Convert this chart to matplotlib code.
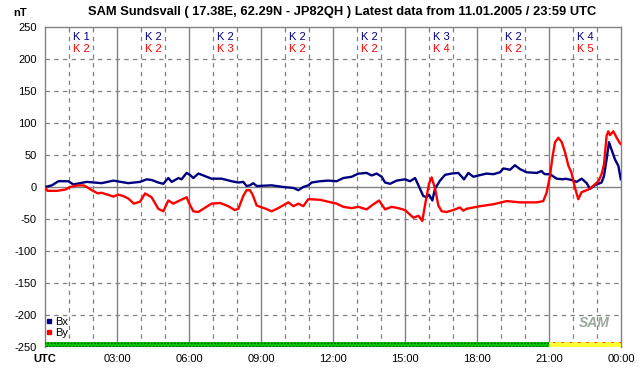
import matplotlib
matplotlib.use("Agg")
import matplotlib.pyplot as plt
from matplotlib.lines import Line2D

plt.rcParams['font.family'] = ['Liberation Sans', 'DejaVu Sans']

# hours UTC, values nT
bx_t = [0, 0.28, 0.56, 0.97, 1.18, 1.74, 2.36, 2.85, 3.47, 3.96, 4.24,
        4.44, 4.72, 4.93, 5.14, 5.28, 5.56, 5.69, 5.9, 6.04, 6.18, 6.39, 6.6,
        6.94, 7.36, 7.78, 8.06, 8.26, 8.4, 8.54, 8.68, 8.82, 9.44, 9.93,
        10.35, 10.56, 10.76, 10.97, 11.11, 11.46, 11.8, 12.15, 12.43, 12.78,
        13.06, 13.12, 13.4, 13.61, 13.82, 14.03, 14.17, 14.38, 14.65, 15.0,
        15.21, 15.42, 15.56, 15.76, 15.9, 16.0, 16.14, 16.25, 16.46, 16.67,
        16.94, 17.22, 17.46, 17.64, 17.85, 18.06, 18.4, 18.68, 18.96, 19.1,
        19.38, 19.58, 19.79, 20.07, 20.49, 20.69, 20.76, 20.83, 21.04, 21.32,
        21.6, 21.67, 21.94, 22.15, 22.36, 22.57, 22.71, 22.92, 23.19, 23.29,
        23.4, 23.5, 23.6, 23.75, 23.89, 23.99]
bx_v = [0, 2.5, 9, 9, 4, 8, 6, 10, 6, 8, 12,
        11, 7, 5, 14, 8, 14, 12, 22, 19, 14, 21, 18,
        13, 13, 9, 7, 8, 1.5, 2.6, 6, 1.5, 2.6, 0,
        -1.5, -5, 0, 2.6, 7, 9, 10, 9, 14, 16,
        21, 21, 22, 18, 21, 16, 7, 5, 10, 12,
        9, 14, 2.6, -14, -16, -12, -21, -2.6, 10, 19,
        21, 22, 12, 22, 16, 18, 21, 20, 23, 29,
        27, 34, 28, 23, 22, 25, 22, 20, 20, 13,
        12, 13, 11, 8, 13, 6, -3, 3, 7, 17,
        43, 70, 59, 43, 33, 12]

by_t = [0, 0.1, 0.5, 0.85, 1.05, 1.35, 1.6, 1.74, 1.95, 2.2, 2.36, 2.85,
        3.05, 3.25, 3.47, 3.7, 3.96, 4.17, 4.44, 4.72, 4.93, 5.14, 5.35,
        5.56, 5.9, 6.04, 6.18, 6.39, 6.6, 6.94, 7.3, 7.64, 7.9, 8.06, 8.26,
        8.4, 8.54, 8.65, 8.82, 9.2, 9.44, 9.72, 10.14, 10.35, 10.56, 10.76,
        10.97, 11.46, 11.8, 12.15, 12.43, 12.78, 13.06, 13.4, 13.61, 13.92,
        14.17, 14.44, 14.72, 15.0, 15.35, 15.56, 15.72, 15.86, 16.0, 16.11,
        16.25, 16.39, 16.53, 16.74, 17.01, 17.29, 17.43, 17.57, 18.13, 18.68,
        19.24, 19.79, 20.49, 20.76, 20.9, 21.04, 21.15, 21.25, 21.39, 21.53,
        21.67, 21.81, 21.94, 22.08, 22.22, 22.36, 22.64, 22.85, 23.06, 23.19,
        23.29, 23.4, 23.47, 23.54, 23.68, 23.82, 23.96, 24.0]
by_v = [0, -6, -6, -4, 0, 2.5, 2.5, 0, -5, -10, -9, -15,
        -12, -14, -18, -26, -23, -10, -16, -34, -38, -21, -26,
        -22, -16, -28, -38, -39, -34, -26, -25, -30, -36, -34, -14,
        -5, -5, -12, -29, -34, -38, -33, -24, -30, -26, -30,
        -19, -20, -23, -26, -31, -33, -31, -35, -29, -21,
        -35, -31, -33, -36, -48, -45, -53, -23, 5, 15,
        -2, -29, -38, -39, -36, -32, -37, -34, -30, -27,
        -22, -24, -24, -22, -9, 17, 48, 70, 77, 70,
        54, 33, 22, -1, -19, -8, -4, 2, 9, 20,
        35, 80, 87, 81, 87, 77, 68, 67]

k_bx = [1, 2, 2, 2, 2, 3, 2, 4]
k_by = [2, 2, 3, 2, 2, 4, 2, 5]

status_start = [0, 21]
status_end = [21, 24]
status_face = ['#00c800', '#ffff33']
status_dots = ['#005500', '#ff2020']

xtick_labels = ['UTC', '03:00', '06:00', '09:00', '12:00', '15:00', '18:00', '21:00', '00:00']
yticks = [250, 200, 150, 100, 50, 0, -50, -100, -150, -200, -250]

fig = plt.figure(figsize=(6.42, 3.76), dpi=100)
ax = fig.add_axes([45 / 642, 1 - 347 / 376, 576 / 642, 320 / 376])
ax.set_xlim(0, 24)
ax.set_ylim(-250, 250)

grid = '#808080'
for h in range(1, 24):
    if h % 3 == 0:
        ax.axvline(h, color=grid, lw=1.0, zorder=1)
    else:
        ax.axvline(h, color=grid, lw=0.9, ls=(0, (3.5, 3.5)), zorder=1)
for v in yticks[1:-1]:
    if v == 0:
        ax.axhline(v, color=grid, lw=1.0, zorder=1)
    else:
        ax.axhline(v, color=grid, lw=0.9, ls=(0, (3.5, 3.5)), zorder=1)
for s in ax.spines.values():
    s.set_color(grid)
    s.set_linewidth(1.0)
ax.spines['bottom'].set_visible(False)

ax.plot(bx_t, bx_v, color='#000080', lw=1.7, zorder=3)
ax.plot(by_t, by_v, color='#ff0000', lw=1.7, zorder=3)

for i in range(8):
    ax.text(3 * i + 1.5, 234, 'K %d' % k_bx[i], color='#000080', fontsize=8,
            ha='center', va='center')
    ax.text(3 * i + 1.5, 215, 'K %d' % k_by[i], color='#ff0000', fontsize=8,
            ha='center', va='center')

plt.rcParams['hatch.linewidth'] = 0.8
for s0, s1, fc, dc in zip(status_start, status_end, status_face, status_dots):
    ax.bar(s0, 8, width=s1 - s0, bottom=-250, align='edge', color=fc,
           edgecolor=dc, hatch='.....' if s0 == 0 else '..', lw=0, zorder=4)

ax.text(22.9, -212, 'SAM', color='#9aa89a', fontsize=10, fontstyle='italic',
        fontweight='bold', ha='center', va='center', zorder=2)

handles = [Line2D([], [], marker='s', color='#000080', ls='none', markersize=3),
           Line2D([], [], marker='s', color='#ff0000', ls='none', markersize=3)]
ax.legend(handles, ['Bx', 'By'], loc='lower left', bbox_to_anchor=(-0.012, 0.005),
          frameon=False, fontsize=8, handlelength=0.6, handletextpad=0.2,
          labelspacing=0.1, borderpad=0.2)

ax.set_xticks(range(0, 25, 3))
ax.set_xticklabels(xtick_labels, fontsize=8)
ax.get_xticklabels()[0].set_fontweight('bold')
ax.set_yticks(yticks)
ax.set_yticklabels([str(v) for v in yticks], fontsize=8)
ax.tick_params(length=0)
ax.tick_params(axis='y', pad=6)
ax.tick_params(axis='x', pad=5)

fig.text(20 / 642, 1 - 13 / 376, 'nT', fontsize=8, fontweight='bold',
         ha='center', va='center')
fig.text(342 / 642, 1 - 12 / 376,
         'SAM Sundsvall ( 17.38E, 62.29N - JP82QH ) Latest data from 11.01.2005 / 23:59 UTC',
         fontsize=9.3, fontweight='bold', ha='center', va='center')

fig.savefig('out.png', dpi=100)
